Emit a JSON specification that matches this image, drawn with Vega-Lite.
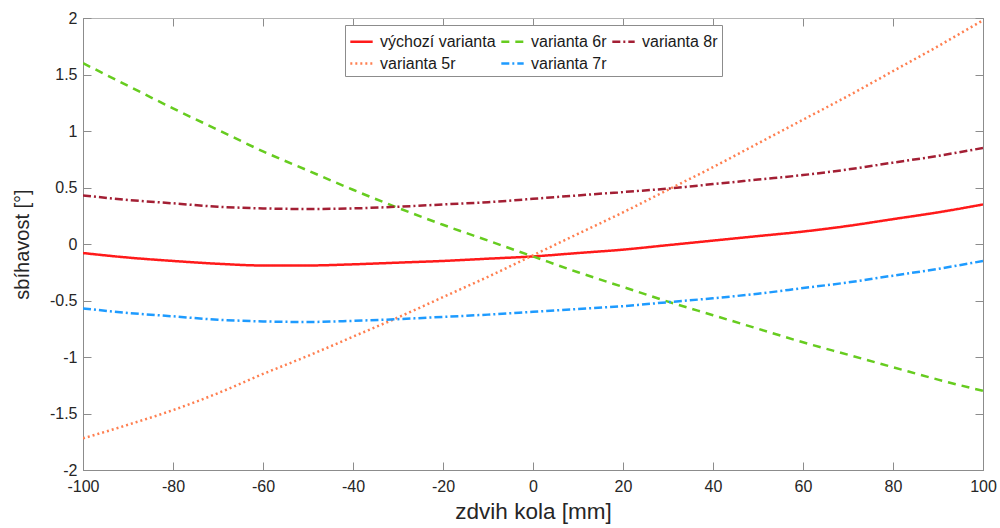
{
  "$schema": "https://vega.github.io/schema/vega-lite/v6.json",
  "width": 900,
  "height": 452,
  "autosize": {"type": "none"},
  "padding": {"left": 83, "top": 18, "right": 17, "bottom": 58},
  "background": "white",
  "config": {
    "font": "Liberation Sans",
    "view": {"stroke": "#8c8c8c", "strokeWidth": 1},
    "axis": {
      "labelFont": "Liberation Sans",
      "titleFont": "Liberation Sans",
      "labelFontSize": 16,
      "titleFontSize": 20,
      "labelColor": "#262626",
      "titleColor": "#262626",
      "titleFontWeight": "normal",
      "gridColor": "#e6e6e6",
      "gridWidth": 1,
      "domainColor": "#8c8c8c",
      "tickColor": "#8c8c8c",
      "tickSize": -8,
      "labelPadding": 14,
      "labelFlush": false,
      "labelOverlap": false,
      "labelExpr": "toString(datum.value)"
    }
  },
  "data": {
    "values": [
      {"x": -100, "s": "výchozí varianta", "y": -0.08},
      {"x": -90, "s": "výchozí varianta", "y": -0.12},
      {"x": -80, "s": "výchozí varianta", "y": -0.15},
      {"x": -70, "s": "výchozí varianta", "y": -0.175},
      {"x": -60, "s": "výchozí varianta", "y": -0.19},
      {"x": -50, "s": "výchozí varianta", "y": -0.19},
      {"x": -40, "s": "výchozí varianta", "y": -0.18},
      {"x": -30, "s": "výchozí varianta", "y": -0.165},
      {"x": -20, "s": "výchozí varianta", "y": -0.15},
      {"x": -10, "s": "výchozí varianta", "y": -0.13},
      {"x": 0, "s": "výchozí varianta", "y": -0.11},
      {"x": 10, "s": "výchozí varianta", "y": -0.08},
      {"x": 20, "s": "výchozí varianta", "y": -0.05},
      {"x": 30, "s": "výchozí varianta", "y": -0.01},
      {"x": 40, "s": "výchozí varianta", "y": 0.03},
      {"x": 50, "s": "výchozí varianta", "y": 0.07},
      {"x": 60, "s": "výchozí varianta", "y": 0.11},
      {"x": 70, "s": "výchozí varianta", "y": 0.16},
      {"x": 80, "s": "výchozí varianta", "y": 0.22},
      {"x": 90, "s": "výchozí varianta", "y": 0.28},
      {"x": 100, "s": "výchozí varianta", "y": 0.35},

      {"x": -100, "s": "varianta 6r", "y": 1.6},
      {"x": -90, "s": "varianta 6r", "y": 1.4},
      {"x": -80, "s": "varianta 6r", "y": 1.2},
      {"x": -70, "s": "varianta 6r", "y": 1.01},
      {"x": -60, "s": "varianta 6r", "y": 0.82},
      {"x": -50, "s": "varianta 6r", "y": 0.65},
      {"x": -40, "s": "varianta 6r", "y": 0.48},
      {"x": -30, "s": "varianta 6r", "y": 0.32},
      {"x": -20, "s": "varianta 6r", "y": 0.17},
      {"x": -10, "s": "varianta 6r", "y": 0.03},
      {"x": 0, "s": "varianta 6r", "y": -0.11},
      {"x": 10, "s": "varianta 6r", "y": -0.25},
      {"x": 20, "s": "varianta 6r", "y": -0.38},
      {"x": 30, "s": "varianta 6r", "y": -0.51},
      {"x": 40, "s": "varianta 6r", "y": -0.63},
      {"x": 50, "s": "varianta 6r", "y": -0.75},
      {"x": 60, "s": "varianta 6r", "y": -0.87},
      {"x": 70, "s": "varianta 6r", "y": -0.98},
      {"x": 80, "s": "varianta 6r", "y": -1.09},
      {"x": 90, "s": "varianta 6r", "y": -1.2},
      {"x": 100, "s": "varianta 6r", "y": -1.3},

      {"x": -100, "s": "varianta 8r", "y": 0.43},
      {"x": -90, "s": "varianta 8r", "y": 0.39},
      {"x": -80, "s": "varianta 8r", "y": 0.36},
      {"x": -70, "s": "varianta 8r", "y": 0.33},
      {"x": -60, "s": "varianta 8r", "y": 0.315},
      {"x": -50, "s": "varianta 8r", "y": 0.31},
      {"x": -40, "s": "varianta 8r", "y": 0.315},
      {"x": -30, "s": "varianta 8r", "y": 0.33},
      {"x": -20, "s": "varianta 8r", "y": 0.35},
      {"x": -10, "s": "varianta 8r", "y": 0.37},
      {"x": 0, "s": "varianta 8r", "y": 0.4},
      {"x": 10, "s": "varianta 8r", "y": 0.43},
      {"x": 20, "s": "varianta 8r", "y": 0.46},
      {"x": 30, "s": "varianta 8r", "y": 0.49},
      {"x": 40, "s": "varianta 8r", "y": 0.53},
      {"x": 50, "s": "varianta 8r", "y": 0.57},
      {"x": 60, "s": "varianta 8r", "y": 0.61},
      {"x": 70, "s": "varianta 8r", "y": 0.66},
      {"x": 80, "s": "varianta 8r", "y": 0.72},
      {"x": 90, "s": "varianta 8r", "y": 0.78},
      {"x": 100, "s": "varianta 8r", "y": 0.85},

      {"x": -100, "s": "varianta 5r", "y": -1.72},
      {"x": -90, "s": "varianta 5r", "y": -1.6},
      {"x": -80, "s": "varianta 5r", "y": -1.47},
      {"x": -70, "s": "varianta 5r", "y": -1.32},
      {"x": -60, "s": "varianta 5r", "y": -1.15},
      {"x": -50, "s": "varianta 5r", "y": -0.99},
      {"x": -40, "s": "varianta 5r", "y": -0.82},
      {"x": -30, "s": "varianta 5r", "y": -0.65},
      {"x": -20, "s": "varianta 5r", "y": -0.47},
      {"x": -10, "s": "varianta 5r", "y": -0.29},
      {"x": 0, "s": "varianta 5r", "y": -0.1},
      {"x": 10, "s": "varianta 5r", "y": 0.09},
      {"x": 20, "s": "varianta 5r", "y": 0.28},
      {"x": 30, "s": "varianta 5r", "y": 0.48},
      {"x": 40, "s": "varianta 5r", "y": 0.68},
      {"x": 50, "s": "varianta 5r", "y": 0.89},
      {"x": 60, "s": "varianta 5r", "y": 1.1},
      {"x": 70, "s": "varianta 5r", "y": 1.31},
      {"x": 80, "s": "varianta 5r", "y": 1.53},
      {"x": 90, "s": "varianta 5r", "y": 1.75},
      {"x": 100, "s": "varianta 5r", "y": 1.98},

      {"x": -100, "s": "varianta 7r", "y": -0.57},
      {"x": -90, "s": "varianta 7r", "y": -0.61},
      {"x": -80, "s": "varianta 7r", "y": -0.64},
      {"x": -70, "s": "varianta 7r", "y": -0.67},
      {"x": -60, "s": "varianta 7r", "y": -0.685},
      {"x": -50, "s": "varianta 7r", "y": -0.69},
      {"x": -40, "s": "varianta 7r", "y": -0.68},
      {"x": -30, "s": "varianta 7r", "y": -0.665},
      {"x": -20, "s": "varianta 7r", "y": -0.645},
      {"x": -10, "s": "varianta 7r", "y": -0.625},
      {"x": 0, "s": "varianta 7r", "y": -0.6},
      {"x": 10, "s": "varianta 7r", "y": -0.575},
      {"x": 20, "s": "varianta 7r", "y": -0.55},
      {"x": 30, "s": "varianta 7r", "y": -0.515},
      {"x": 40, "s": "varianta 7r", "y": -0.48},
      {"x": 50, "s": "varianta 7r", "y": -0.44},
      {"x": 60, "s": "varianta 7r", "y": -0.39},
      {"x": 70, "s": "varianta 7r", "y": -0.34},
      {"x": 80, "s": "varianta 7r", "y": -0.28},
      {"x": 90, "s": "varianta 7r", "y": -0.22},
      {"x": 100, "s": "varianta 7r", "y": -0.15}
    ]
  },
  "layer": [
    {
      "mark": {"type": "line", "strokeWidth": 0, "opacity": 0},
      "encoding": {
        "x": {
          "field": "x", "type": "quantitative",
          "scale": {"domain": [-100, 100], "nice": false},
          "axis": {"orient": "top", "values": [-100, -80, -60, -40, -20, 0, 20, 40, 60, 80, 100], "labels": false, "title": null, "grid": false, "domainColor": "#b4b4b4"}
        },
        "y": {
          "field": "y", "type": "quantitative",
          "scale": {"domain": [-2, 2], "nice": false},
          "axis": {"orient": "right", "values": [-2, -1.5, -1, -0.5, 0, 0.5, 1, 1.5, 2], "labels": false, "title": null, "grid": false}
        },
        "detail": {"field": "s"}
      }
    },
    {
      "mark": {"type": "line", "strokeWidth": 2.5, "interpolate": "monotone", "clip": true},
      "encoding": {
        "x": {
          "field": "x", "type": "quantitative",
          "scale": {"domain": [-100, 100], "nice": false},
          "axis": {"orient": "bottom", "values": [-100, -80, -60, -40, -20, 0, 20, 40, 60, 80, 100], "title": "zdvih kola [mm]", "titleFontSize": 22.5, "titlePadding": 6, "labelPadding": 16}
        },
        "y": {
          "field": "y", "type": "quantitative",
          "scale": {"domain": [-2, 2], "nice": false},
          "axis": {"orient": "left", "values": [-2, -1.5, -1, -0.5, 0, 0.5, 1, 1.5, 2], "title": "sbíhavost [°]", "titlePadding": 17}
        },
        "color": {
          "field": "s", "type": "nominal",
          "scale": {
            "domain": ["výchozí varianta", "varianta 6r", "varianta 8r", "varianta 5r", "varianta 7r"],
            "range": ["#ff1a1a", "#66cc1f", "#a31f34", "#ff7f50", "#1e9bff"]
          },
          "legend": {
            "title": null,
            "orient": "none",
            "legendX": 262,
            "legendY": 7,
            "columns": 3,
            "direction": "horizontal",
            "symbolType": "stroke",
            "symbolSize": 500,
            "symbolStrokeWidth": 2.5,
            "labelFontSize": 16,
            "labelFont": "Liberation Sans",
            "labelColor": "#1a1a1a",
            "fillColor": "white",
            "strokeColor": "#8c8c8c",
            "padding": 4,
            "columnPadding": 0,
            "rowPadding": 1,
            "labelOffset": 6
          }
        },
        "strokeDash": {
          "field": "s", "type": "nominal",
          "scale": {
            "domain": ["výchozí varianta", "varianta 6r", "varianta 8r", "varianta 5r", "varianta 7r"],
            "range": [[1, 0], [8, 6], [8, 3, 2, 3], [2, 3], [8, 3, 2, 3]]
          },
          "legend": null
        }
      }
    }
  ],
  "resolve": {"axis": {"x": "independent", "y": "independent"}}
}
